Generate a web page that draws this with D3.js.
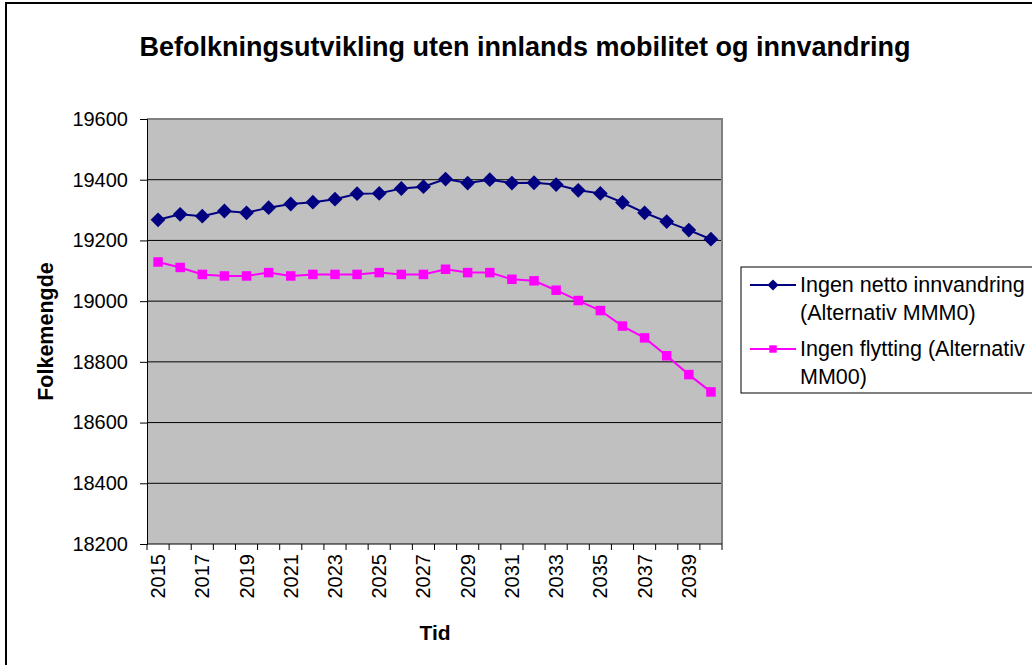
<!DOCTYPE html>
<html>
<head>
<meta charset="utf-8">
<script src="https://cdn.jsdelivr.net/npm/d3@7"></script>
<style>
    body { margin: 0; background: #fff; }
    svg { display: block; font-family: "Liberation Sans", Arial, sans-serif; }
</style>
</head>
<body>
<svg id="chart" width="1032" height="665"></svg>
<script>
// Chart data
const years = d3.range(2015, 2041);
const yTicks = [18200, 18400, 18600, 18800, 19000, 19200, 19400, 19600];
const seriesNames = [
    ['Ingen netto innvandring', '(Alternativ MMM0)'],
    ['Ingen flytting (Alternativ', 'MM00)']
];
const noImmigration = [19268, 19286, 19280, 19297, 19291, 19308, 19320, 19326, 19336, 19354,
    19355, 19371, 19377, 19402, 19389, 19400, 19389, 19390, 19384, 19365,
    19355, 19325, 19291, 19262, 19234, 19204];
const noMoving = [19129, 19111, 19088, 19083, 19083, 19094, 19083, 19088, 19088, 19088,
    19094, 19088, 19088, 19105, 19094, 19094, 19072, 19067, 19036, 19002,
    18969, 18918, 18879, 18820, 18758, 18701];

const svg = d3.select('#chart');

// Outer chart border
svg.append('rect')
    .attr('x', 6).attr('y', 3)
    .attr('width', 1040).attr('height', 680)
    .attr('fill', '#fff')
    .attr('stroke', '#000')
    .attr('stroke-width', 2);

const plot = { left: 147, right: 722, top: 119, bottom: 544 };

const x = d3.scaleBand().domain(years).range([plot.left, plot.right]);
const cx = d => x(d) + x.bandwidth() / 2;
const y = d3.scaleLinear().domain([18200, 19600]).range([plot.bottom, plot.top]);

// Plot background
svg.append('rect')
    .attr('x', plot.left).attr('y', plot.top)
    .attr('width', plot.right - plot.left)
    .attr('height', plot.bottom - plot.top)
    .attr('fill', '#c0c0c0');

// Gridlines
svg.append('g')
    .selectAll('line')
    .data(yTicks.slice(1, -1))
    .join('line')
    .attr('x1', plot.left).attr('x2', plot.right)
    .attr('y1', d => y(d)).attr('y2', d => y(d))
    .attr('stroke', '#000')
    .attr('stroke-width', 1);

// Top and right frame in gray
svg.append('path')
    .attr('d', `M${plot.left},${plot.top} H${plot.right} V${plot.bottom}`)
    .attr('fill', 'none')
    .attr('stroke', '#808080')
    .attr('stroke-width', 2);

// Y axis
const yAxis = svg.append('g')
    .attr('transform', `translate(${plot.left},0)`)
    .call(d3.axisLeft(y).tickValues(yTicks).tickSize(7).tickPadding(12).tickFormat(d3.format('d')));
yAxis.select('.domain').attr('stroke', '#000');
yAxis.selectAll('.tick line').attr('stroke', '#000');
yAxis.selectAll('text')
    .attr('font-size', 20)
    .attr('font-family', '"Liberation Sans", Arial, sans-serif')
    .attr('fill', '#000');

// X axis: ticks at category boundaries
const xAxisG = svg.append('g');
xAxisG.append('line')
    .attr('x1', plot.left).attr('x2', plot.right)
    .attr('y1', plot.bottom).attr('y2', plot.bottom)
    .attr('stroke', '#000');
xAxisG.selectAll('line.tick')
    .data(years.concat([null]))
    .join('line')
    .attr('class', 'tick')
    .attr('x1', d => d === null ? plot.right : x(d))
    .attr('x2', d => d === null ? plot.right : x(d))
    .attr('y1', plot.bottom).attr('y2', plot.bottom + 6)
    .attr('stroke', '#000');
xAxisG.selectAll('text')
    .data(years.filter(d => (d - 2015) % 2 === 0))
    .join('text')
    .attr('transform', d => `translate(${cx(d) + 7},${plot.bottom + 10}) rotate(-90)`)
    .attr('text-anchor', 'end')
    .attr('font-size', 20)
    .text(d => d);

// Axis titles
svg.append('text')
    .attr('x', 435).attr('y', 640)
    .attr('text-anchor', 'middle')
    .attr('font-size', 21)
    .attr('font-weight', 'bold')
    .text('Tid');

svg.append('text')
    .attr('transform', `translate(53,${(plot.top + plot.bottom) / 2}) rotate(-90)`)
    .attr('text-anchor', 'middle')
    .attr('font-size', 21.5)
    .attr('font-weight', 'bold')
    .text('Folkemengde');

// Title
svg.append('text')
    .attr('x', 525).attr('y', 56)
    .attr('text-anchor', 'middle')
    .attr('font-size', 27)
    .attr('font-weight', 'bold')
    .text('Befolkningsutvikling uten innlands mobilitet og innvandring');

// Series
const line = d3.line().x((d, i) => cx(years[i])).y(d => y(d));
const diamond = d3.symbol().type(d3.symbolDiamond2);
const square = d3.symbol().type(d3.symbolSquare2);

svg.append('path')
    .datum(noImmigration)
    .attr('d', line)
    .attr('fill', 'none')
    .attr('stroke', '#000080')
    .attr('stroke-width', 2);
svg.append('g')
    .selectAll('path')
    .data(noImmigration)
    .join('path')
    .attr('transform', (d, i) => `translate(${cx(years[i])},${y(d)})`)
    .attr('d', diamond.size(140))
    .attr('fill', '#000080');

svg.append('path')
    .datum(noMoving)
    .attr('d', line)
    .attr('fill', 'none')
    .attr('stroke', '#ff00ff')
    .attr('stroke-width', 2);
svg.append('g')
    .selectAll('path')
    .data(noMoving)
    .join('path')
    .attr('transform', (d, i) => `translate(${cx(years[i])},${y(d)})`)
    .attr('d', square.size(115))
    .attr('fill', '#ff00ff');

// Legend
const legend = svg.append('g');
legend.append('rect')
    .attr('x', 741).attr('y', 267)
    .attr('width', 320).attr('height', 126)
    .attr('fill', '#fff')
    .attr('stroke', '#000')
    .attr('stroke-width', 1);

const legendItems = [
    { names: seriesNames[0], color: '#000080', symbol: diamond, size: 80, y: 285 },
    { names: seriesNames[1], color: '#ff00ff', symbol: square, size: 70, y: 349 }
];
legendItems.forEach(item => {
    legend.append('line')
        .attr('x1', 750).attr('x2', 796)
        .attr('y1', item.y).attr('y2', item.y)
        .attr('stroke', item.color)
        .attr('stroke-width', 2);
    legend.append('path')
        .attr('transform', `translate(773,${item.y})`)
        .attr('d', item.symbol.size(item.size))
        .attr('fill', item.color);
    item.names.forEach((t, j) => {
        legend.append('text')
            .attr('x', 800)
            .attr('y', item.y + 7 + j * 28)
            .attr('font-size', 21.5)
            .text(t);
    });
});
</script>
</body>
</html>
